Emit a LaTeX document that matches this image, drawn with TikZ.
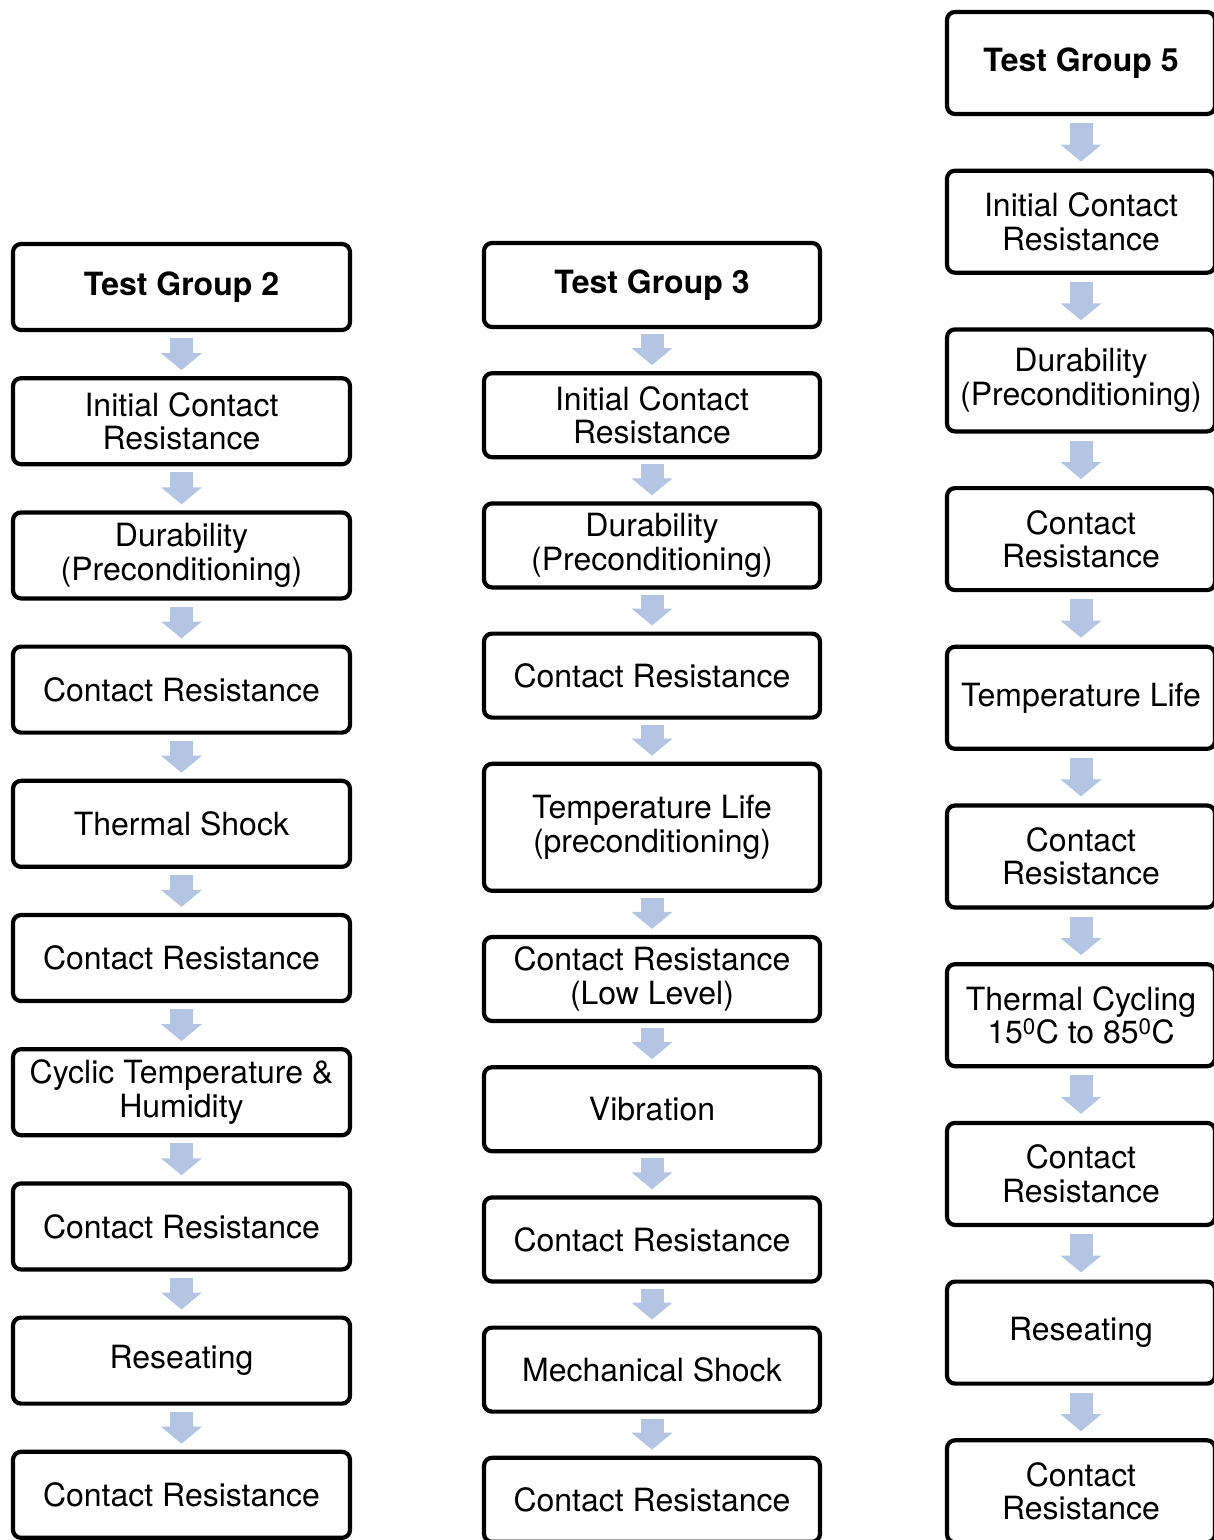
\documentclass[tikz,border=0pt]{standalone}
\usepackage{fontspec}
\setmainfont{TeX Gyre Heros}
\usepackage{tikz}
\usetikzlibrary{arrows.meta,positioning}
\definecolor{arrowblue}{RGB}{180,197,228}
\newcommand{\boxfont}{\fontsize{32}{33.5}\selectfont}
\tikzstyle{stepbox} = [rectangle, rounded corners=8pt, line width=4.2pt, draw=black, text centered, align=center, font=\boxfont]
\tikzstyle{boxtwo} = [stepbox, minimum width=337pt, minimum height=86pt]
\tikzstyle{boxthree} = [stepbox, minimum width=336pt, minimum height=84pt]
\tikzstyle{boxfive} = [stepbox, minimum width=268pt, minimum height=102pt]
\tikzstyle{blockarrow} = [draw=arrowblue, line width=23pt, -{Triangle[width=40pt,length=17pt]}, shorten <=6pt, shorten >=6pt]

\begin{document}
\begin{tikzpicture}[x=1pt,y=-1pt]
\useasboundingbox (0,0) rectangle (1214,1540);

% test group 2
\node (g2) [boxtwo] at (181.5,287) {\bfseries Test Group 2};
\node (g2init) [boxtwo, below=44pt of g2] {Initial Contact\\Resistance};
\node (g2dur) [boxtwo, below=44pt of g2init] {Durability\\(Preconditioning)};
\node (g2cr1) [boxtwo, below=44pt of g2dur] {Contact Resistance};
\node (g2shock) [boxtwo, below=44pt of g2cr1] {Thermal Shock};
\node (g2cr2) [boxtwo, below=44pt of g2shock] {Contact Resistance};
\node (g2cyc) [boxtwo, below=44pt of g2cr2] {Cyclic Temperature \&\\Humidity};
\node (g2cr3) [boxtwo, below=44pt of g2cyc] {Contact Resistance};
\node (g2reseat) [boxtwo, below=44pt of g2cr3] {Reseating};
\node (g2cr4) [boxtwo, below=44pt of g2reseat] {Contact Resistance};

% test group 3
\node (g3) [boxthree] at (652,285) {\bfseries Test Group 3};
\node (g3init) [boxthree, below=42pt of g3] {Initial Contact\\Resistance};
\node (g3dur) [boxthree, below=42pt of g3init] {Durability\\(Preconditioning)};
\node (g3cr1) [boxthree, below=42pt of g3dur] {Contact Resistance};
\node (g3life) [boxthree, minimum height=127pt, below=42pt of g3cr1] {Temperature Life\\(preconditioning)};
\node (g3cr2) [boxthree, below=42pt of g3life] {Contact Resistance\\(Low Level)};
\node (g3vib) [boxthree, below=42pt of g3cr2] {Vibration};
\node (g3cr3) [boxthree, below=42pt of g3vib] {Contact Resistance};
\node (g3mech) [boxthree, below=42pt of g3cr3] {Mechanical Shock};
\node (g3cr4) [boxthree, below=42pt of g3mech] {Contact Resistance};

% test group 5
\node (g5) [boxfive] at (1081,63) {\bfseries Test Group 5};
\node (g5init) [boxfive, below=52.5pt of g5] {Initial Contact\\Resistance};
\node (g5dur) [boxfive, below=52.5pt of g5init] {Durability\\(Preconditioning)};
\node (g5cr1) [boxfive, below=52.5pt of g5dur] {Contact\\Resistance};
\node (g5life) [boxfive, below=52.5pt of g5cr1] {Temperature Life};
\node (g5cr2) [boxfive, below=52.5pt of g5life] {Contact\\Resistance};
\node (g5cyc) [boxfive, below=52.5pt of g5cr2] {Thermal Cycling\\15\textsuperscript{0}C to 85\textsuperscript{0}C};
\node (g5cr3) [boxfive, below=52.5pt of g5cyc] {Contact\\Resistance};
\node (g5reseat) [boxfive, below=52.5pt of g5cr3] {Reseating};
\node (g5cr4) [boxfive, below=52.5pt of g5reseat] {Contact\\Resistance};

\draw [blockarrow] (g2)--(g2init);
\draw [blockarrow] (g2init)--(g2dur);
\draw [blockarrow] (g2dur)--(g2cr1);
\draw [blockarrow] (g2cr1)--(g2shock);
\draw [blockarrow] (g2shock)--(g2cr2);
\draw [blockarrow] (g2cr2)--(g2cyc);
\draw [blockarrow] (g2cyc)--(g2cr3);
\draw [blockarrow] (g2cr3)--(g2reseat);
\draw [blockarrow] (g2reseat)--(g2cr4);

\draw [blockarrow, shorten <=5pt, shorten >=6pt] (g3)--(g3init);
\draw [blockarrow, shorten <=5pt, shorten >=6pt] (g3init)--(g3dur);
\draw [blockarrow, shorten <=5pt, shorten >=6pt] (g3dur)--(g3cr1);
\draw [blockarrow, shorten <=5pt, shorten >=6pt] (g3cr1)--(g3life);
\draw [blockarrow, shorten <=5pt, shorten >=6pt] (g3life)--(g3cr2);
\draw [blockarrow, shorten <=5pt, shorten >=6pt] (g3cr2)--(g3vib);
\draw [blockarrow, shorten <=5pt, shorten >=6pt] (g3vib)--(g3cr3);
\draw [blockarrow, shorten <=5pt, shorten >=6pt] (g3cr3)--(g3mech);
\draw [blockarrow, shorten <=5pt, shorten >=6pt] (g3mech)--(g3cr4);

\draw [blockarrow, shorten <=7pt, shorten >=7pt] (g5)--(g5init);
\draw [blockarrow, shorten <=7pt, shorten >=7pt] (g5init)--(g5dur);
\draw [blockarrow, shorten <=7pt, shorten >=7pt] (g5dur)--(g5cr1);
\draw [blockarrow, shorten <=7pt, shorten >=7pt] (g5cr1)--(g5life);
\draw [blockarrow, shorten <=7pt, shorten >=7pt] (g5life)--(g5cr2);
\draw [blockarrow, shorten <=7pt, shorten >=7pt] (g5cr2)--(g5cyc);
\draw [blockarrow, shorten <=7pt, shorten >=7pt] (g5cyc)--(g5cr3);
\draw [blockarrow, shorten <=7pt, shorten >=7pt] (g5cr3)--(g5reseat);
\draw [blockarrow, shorten <=7pt, shorten >=7pt] (g5reseat)--(g5cr4);

\end{tikzpicture}
\end{document}
